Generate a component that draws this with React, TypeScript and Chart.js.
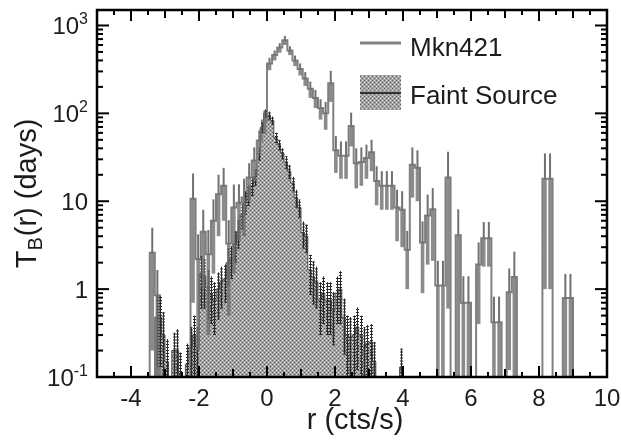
import React, { useEffect, useRef } from "react";
import { Chart, registerables } from "chart.js";

Chart.register(...registerables);

// ---------------- data ----------------
// Mkn421 histogram: bins of 0.15 cts/s starting at -3.45
const MKN_START = -3.45;
const MKN_WIDTH = 0.15;
const mknValues = [
  2.6, 0.85, 0, 0, 0, 0, 0, 0, 10.7, 2.2,
  4.5, 2.5, 6, 12, 15, 3.3, 8.5, 9.6, 11, 18.6,
  29, 49, 83, 370, 460, 560, 680, 520, 400, 320,
  250, 190, 150, 115, 100, 220, 38, 33, 33, 72,
  27, 28, 31, 36, 17, 15, 15, 15, 8.5, 8,
  2.8, 26, 24, 3.4, 6.9, 8.1, 1.1, 1.1, 18.6, 0,
  4.1, 0.7, 0.7, 0, 1.9, 3.8, 3.8, 0.42, 0.42, 0,
  0.92, 1.37, 0, 0, 0, 0, 0, 18, 18, 0,
  0, 0.79, 0.79,
];
const mknErrors = [
  2.4, 0.8, 0, 0, 0, 0, 0, 0, 10, 2.0,
  3.5, 2.2, 4.5, 8, 9, 2.8, 7, 6, 7, 8.5,
  12, 15, 25, 60, 60, 70, 80, 60, 55, 50,
  45, 40, 35, 30, 35, 85, 17, 15, 15, 30,
  13, 13, 13, 14, 8, 7, 7, 7, 5, 5,
  1.8, 15, 14, 2.5, 5, 6, 1.0, 1.0, 18, 0,
  4, 0.7, 0.7, 0, 1.5, 2, 2, 0.4, 0.4, 0,
  0.8, 1.3, 0, 0, 0, 0, 0, 17, 17, 0,
  0, 0.7, 0.7,
];

// Faint source histogram: bins of 0.1 cts/s starting at -3.4
const FAINT_START = -3.4;
const FAINT_WIDTH = 0.1;
const faintValues = [
  0, 0.48, 0.48, 0.3, 0.15, 0, 0.2, 0.2, 0.11, 0,
  0.14, 0.22, 0.3, 0.22, 1.5, 1.4, 1.05, 0.9, 0.75, 1.0,
  1.2, 1.3, 2.0, 2.2, 3.3, 4.5, 7, 10, 12, 15,
  19, 35, 69, 100, 95, 83, 53, 44, 35, 28,
  22, 16, 11, 8.5, 4.4, 4.0, 1.66, 1.37, 1.2, 0.75,
  0.9, 0.75, 0.75, 0.58, 0.9, 1.0, 0.48, 0.3, 0.28, 0.3,
  0.37, 0.3, 0.22, 0.24, 0.25, 0.15, 0, 0, 0, 0,
  0, 0, 0, 0.13,
];
const faintErrors = [
  0, 0.35, 0.35, 0.25, 0.12, 0, 0.12, 0.15, 0.08, 0,
  0.1, 0.15, 0.2, 0.15, 0.9, 0.8, 0.6, 0.5, 0.45, 0.55,
  0.6, 0.6, 0.9, 0.9, 1.3, 1.6, 2.2, 3, 3.2, 3.5,
  4, 6, 9, 11, 10, 9, 7, 6, 5, 4.5,
  4, 3, 2.5, 2, 1.5, 1.4, 0.8, 0.7, 0.6, 0.45,
  0.5, 0.45, 0.45, 0.35, 0.5, 0.6, 0.3, 0.2, 0.2, 0.2,
  0.25, 0.2, 0.15, 0.15, 0.15, 0.1, 0, 0, 0, 0,
  0, 0, 0, 0.08,
];

const xTickValues = [-4, -2, 0, 2, 4, 6, 8, 10];
const xTickLabels = ["-4", "-2", "0", "2", "4", "6", "8", "10"];
const yTickExponents = [-1, 0, 1, 2, 3];

const X_MIN = -5;
const X_MAX = 10;
const Y_MIN = 0.1;
const Y_MAX = 1500;

const xTitle = "r (cts/s)";
const seriesNames = ["Mkn421", "Faint Source"];

// ---------------- helpers ----------------
const FONT = '"Liberation Sans", Arial, Helvetica, sans-serif';
const FLOOR = 1e-3;

function stepPoints(start: number, width: number, values: number[]) {
  const pts: { x: number; y: number }[] = [{ x: start, y: FLOOR }];
  values.forEach((v, i) => pts.push({ x: start + i * width, y: v > 0 ? v : FLOOR }));
  pts.push({ x: start + values.length * width, y: FLOOR });
  return pts;
}

function makePattern(ctx: CanvasRenderingContext2D) {
  const pc = document.createElement("canvas");
  pc.width = 4;
  pc.height = 4;
  const g = pc.getContext("2d")!;
  g.fillStyle = "#a4a4a4";
  g.fillRect(0, 0, 4, 4);
  g.fillStyle = "#5c5c5c";
  g.fillRect(0, 0, 1, 1);
  g.fillRect(2, 2, 1, 1);
  g.fillStyle = "#dddddd";
  g.fillRect(2, 0, 1, 1);
  g.fillRect(0, 2, 1, 1);
  return ctx.createPattern(pc, "repeat")!;
}

const rootPlugin = {
  id: "rootStyle",
  beforeDraw(chart: any) {
    const ctx = chart.ctx;
    ctx.save();
    ctx.fillStyle = "#ffffff";
    ctx.fillRect(0, 0, chart.width, chart.height);
    ctx.restore();
  },
  afterDatasetsDraw(chart: any) {
    const ctx: CanvasRenderingContext2D = chart.ctx;
    const a = chart.chartArea;
    const xs = chart.scales.x;
    const ys = chart.scales.y;
    ctx.save();
    ctx.beginPath();
    ctx.rect(a.left, a.top, a.right - a.left, a.bottom - a.top);
    ctx.clip();

    // faint source error bars
    faintValues.forEach((v, i) => {
      const e = faintErrors[i];
      if (!(v > 0) || !(e > 0)) return;
      const xc = Math.round(xs.getPixelForValue(FAINT_START + (i + 0.5) * FAINT_WIDTH)) + 0.5;
      const yh = ys.getPixelForValue(v + e);
      const yl = v - e > 0 ? ys.getPixelForValue(v - e) : a.bottom + 5;
      ctx.strokeStyle = "#2a2a2a";
      ctx.lineWidth = 1;
      ctx.setLineDash([]);
      ctx.beginPath();
      ctx.moveTo(xc, yl);
      ctx.lineTo(xc, yh);
      ctx.stroke();
      ctx.lineWidth = 3;
      ctx.setLineDash([1, 2]);
      ctx.beginPath();
      ctx.moveTo(xc, yl);
      ctx.lineTo(xc, yh);
      ctx.stroke();
    });
    ctx.setLineDash([]);

    // Mkn421 error bars
    const binPx = xs.getPixelForValue(MKN_WIDTH) - xs.getPixelForValue(0);
    mknValues.forEach((v, i) => {
      const e = mknErrors[i];
      if (!(v > 0) || !(e > 0)) return;
      const xc = xs.getPixelForValue(MKN_START + (i + 0.5) * MKN_WIDTH);
      const yv = ys.getPixelForValue(v);
      const yh = ys.getPixelForValue(v + e);
      const yl = v - e > 0 ? ys.getPixelForValue(v - e) : a.bottom + 5;
      ctx.fillStyle = "rgba(110,110,110,0.8)";
      const bw = Math.max(2, binPx - 1.5);
      ctx.fillRect(xc - bw / 2, yv, bw, yl - yv);
      ctx.strokeStyle = "#707070";
      ctx.lineWidth = 2;
      ctx.beginPath();
      ctx.moveTo(xc, yv);
      ctx.lineTo(xc, yh);
      ctx.stroke();
    });
    ctx.restore();
  },
  afterDraw(chart: any) {
    const ctx: CanvasRenderingContext2D = chart.ctx;
    const a = chart.chartArea;
    const xs = chart.scales.x;
    const ys = chart.scales.y;
    ctx.save();
    ctx.strokeStyle = "#000";
    ctx.lineCap = "butt";

    const line = (x1: number, y1: number, x2: number, y2: number) => {
      ctx.beginPath();
      ctx.moveTo(x1, y1);
      ctx.lineTo(x2, y2);
      ctx.stroke();
    };

    // x ticks (bottom and top)
    ctx.lineWidth = 2;
    for (let k = 0; k <= (X_MAX - X_MIN) * 2; k++) {
      const v = X_MIN + k * 0.5;
      const px = xs.getPixelForValue(v);
      let len = 5;
      if (Math.abs(v % 2) < 1e-9) len = 11;
      else if (Math.abs(v % 1) < 1e-9) len = 8;
      line(px, a.bottom, px, a.bottom - len);
      line(px, a.top, px, a.top + len);
    }
    // y ticks (left and right)
    for (let e = -1; e <= 3; e++) {
      for (let m = 1; m <= 9; m++) {
        const v = m * Math.pow(10, e);
        if (v < Y_MIN - 1e-12 || v > Y_MAX) continue;
        const py = ys.getPixelForValue(v);
        const len = m === 1 ? 12 : 6;
        line(a.left, py, a.left + len, py);
        line(a.right, py, a.right - len, py);
      }
    }

    // frame
    ctx.lineWidth = 2.5;
    ctx.strokeRect(a.left, a.top, a.right - a.left, a.bottom - a.top);

    // x tick labels
    ctx.fillStyle = "#1c1c1c";
    ctx.font = `24px ${FONT}`;
    ctx.textAlign = "center";
    ctx.textBaseline = "alphabetic";
    xTickValues.forEach((v, i) => {
      ctx.fillText(xTickLabels[i], xs.getPixelForValue(v), 406);
    });

    // y tick labels with superscripts
    yTickExponents.forEach((e) => {
      const py = ys.getPixelForValue(Math.pow(10, e));
      const base = py + 9;
      const right = 88;
      if (e === 0) {
        ctx.font = `24px ${FONT}`;
        ctx.textAlign = "right";
        ctx.fillText("1", right, base);
      } else if (e === 1) {
        ctx.font = `24px ${FONT}`;
        ctx.textAlign = "right";
        ctx.fillText("10", right, base);
      } else {
        const sup = String(e);
        ctx.font = `16px ${FONT}`;
        const ws = ctx.measureText(sup).width;
        ctx.font = `24px ${FONT}`;
        const wb = ctx.measureText("10").width;
        const x0 = right - ws - wb;
        ctx.textAlign = "left";
        ctx.fillText("10", x0, base);
        ctx.font = `16px ${FONT}`;
        ctx.fillText(sup, x0 + wb, base - 10);
      }
    });

    // x title
    ctx.font = `29px ${FONT}`;
    ctx.textAlign = "center";
    ctx.fillText(xTitle, 355, 429);

    // y title: T_B(r) (days)
    ctx.save();
    ctx.translate(27, (a.top + a.bottom) / 2);
    ctx.rotate(-Math.PI / 2);
    ctx.textAlign = "left";
    ctx.font = `29px ${FONT}`;
    const wT = ctx.measureText("T").width;
    const rest = "(r) (days)";
    const wR = ctx.measureText(rest).width;
    ctx.font = `20px ${FONT}`;
    const wB = ctx.measureText("B").width;
    const total = wT + wB + 1 + wR;
    let cx = -total / 2;
    ctx.font = `29px ${FONT}`;
    ctx.fillText("T", cx, 9);
    cx += wT;
    ctx.font = `20px ${FONT}`;
    ctx.fillText("B", cx, 15);
    cx += wB + 1;
    ctx.font = `29px ${FONT}`;
    ctx.fillText(rest, cx, 9);
    ctx.restore();

    // legend
    ctx.strokeStyle = "#808080";
    ctx.lineWidth = 3;
    line(360, 43, 401, 43);
    ctx.fillStyle = makePattern(ctx);
    ctx.fillRect(360, 75, 41, 35);
    ctx.strokeStyle = "#333";
    ctx.lineWidth = 2;
    line(360, 93, 401, 93);
    ctx.fillStyle = "#1c1c1c";
    ctx.font = `26px ${FONT}`;
    ctx.textAlign = "left";
    ctx.fillText(seriesNames[0], 410, 56);
    ctx.fillText(seriesNames[1], 410, 104);

    ctx.restore();
  },
};

export default function App() {
  const canvasRef = useRef<HTMLCanvasElement | null>(null);

  useEffect(() => {
    const canvas = canvasRef.current;
    if (!canvas) return;
    const ctx = canvas.getContext("2d")!;
    const pattern = makePattern(ctx);
    const chart = new Chart(canvas, {
      type: "line",
      data: {
        datasets: [
          {
            label: seriesNames[1],
            data: stepPoints(FAINT_START, FAINT_WIDTH, faintValues),
            stepped: true,
            borderColor: "#4a4a4a",
            borderWidth: 1,
            backgroundColor: pattern,
            fill: "start",
            pointRadius: 0,
            order: 1,
          },
          {
            label: seriesNames[0],
            data: stepPoints(MKN_START, MKN_WIDTH, mknValues),
            stepped: true,
            borderColor: "#808080",
            borderWidth: 2,
            fill: false,
            pointRadius: 0,
            order: 0,
          },
        ],
      } as any,
      options: {
        animation: false,
        responsive: false,
        maintainAspectRatio: false,
        layout: { padding: { left: 97, right: 14, top: 10, bottom: 70 } },
        scales: {
          x: { type: "linear", min: X_MIN, max: X_MAX, display: false },
          y: { type: "logarithmic", min: Y_MIN, max: Y_MAX, display: false },
        },
        plugins: {
          legend: { display: false },
          tooltip: { enabled: false },
        },
      } as any,
      plugins: [rootPlugin as any],
    });
    return () => chart.destroy();
  }, []);

  return (
    <div style={{ position: "fixed", left: 0, top: 0, width: 621, height: 447, background: "#fff" }}>
      <canvas ref={canvasRef} width={621} height={447} style={{ display: "block" }} />
    </div>
  );
}
